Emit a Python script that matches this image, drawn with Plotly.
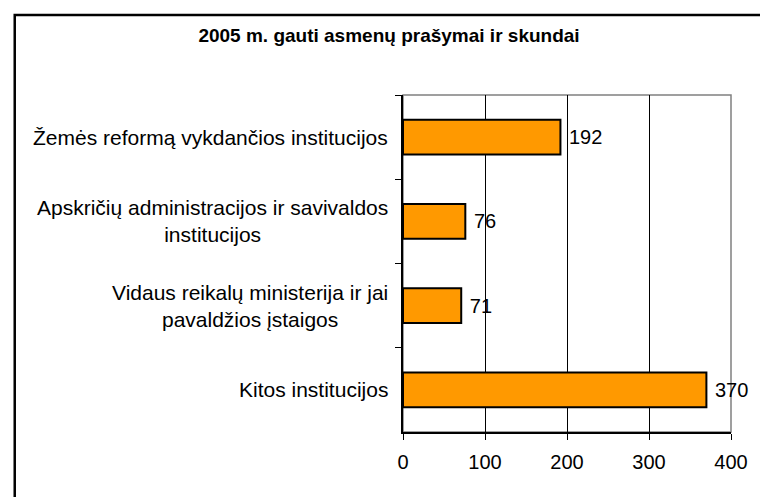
import plotly.graph_objects as go

title_text = "2005 m. gauti asmenų prašymai ir skundai"
categories = [
    "Žemės reformą vykdančios institucijos",
    "Apskričių administracijos ir savivaldos<br>institucijos",
    "Vidaus reikalų ministerija ir jai<br>pavaldžios įstaigos",
    "Kitos institucijos",
]
values = [192, 76, 71, 370]
x_ticks = [0, 100, 200, 300, 400]

W, H = 760, 497
ML, MR, MT, MB = 403, 25, 95, 65
PW = W - ML - MR
PH = H - MT - MB


def px_x(px):
    return (px - ML) / PW


def px_y(py):
    return (H - MB - py) / PH


FONT = "Arial, Liberation Sans, sans-serif"

fig = go.Figure()
fig.add_trace(go.Bar(
    y=categories,
    x=values,
    orientation="h",
    width=0.41,
    marker=dict(color="#FF9900", line=dict(color="black", width=2)),
    texttemplate=" %{x}",
    textposition="outside",
    textfont=dict(family=FONT, size=20, color="black"),
    cliponaxis=False,
    hoverinfo="x+y",
))

annotations = []
for c in categories:
    annotations.append(dict(
        x=px_x(390), xref="paper", xanchor="right",
        y=c, yref="y", yanchor="middle",
        text=c, showarrow=False, align="center",
        font=dict(family=FONT, size=21, color="black"),
    ))

shapes = [
    dict(type="rect", xref="paper", yref="paper", x0=0, x1=1, y0=0, y1=1,
         line=dict(color="#808080", width=1.5), layer="below"),
    dict(type="rect", xref="paper", yref="paper",
         x0=px_x(10), x1=px_x(800), y0=px_y(540), y1=px_y(15),
         line=dict(color="black", width=2.5)),
]

fig.update_layout(
    width=W, height=H,
    margin=dict(l=ML, r=MR, t=MT, b=MB),
    paper_bgcolor="white", plot_bgcolor="white",
    showlegend=False,
    bargap=0.59,
    title=dict(text="<b>" + title_text + "</b>", x=389 / W, xref="container",
               xanchor="center", y=1 - 35 / H, yanchor="middle",
               font=dict(family=FONT, size=19, color="black")),
    xaxis=dict(range=[0, 400], tickvals=x_ticks, ticktext=[str(t) for t in x_ticks],
               showgrid=True, gridcolor="black", gridwidth=1,
               ticks="outside", ticklen=6, tickcolor="black",
               showline=True, linecolor="black", linewidth=1.5,
               zeroline=False, tickfont=dict(family=FONT, size=20, color="black"),
               ticklabelstandoff=5),
    yaxis=dict(type="category", categoryorder="array", categoryarray=categories,
               autorange="reversed", tickson="boundaries",
               ticks="outside", ticklen=6, tickcolor="black",
               showline=True, linecolor="black", linewidth=1.5,
               showticklabels=False, showgrid=False),
    annotations=annotations,
    shapes=shapes,
)

fig.write_html("out.html", config={"displayModeBar": False},
               post_script="document.body.style.margin='0';")
